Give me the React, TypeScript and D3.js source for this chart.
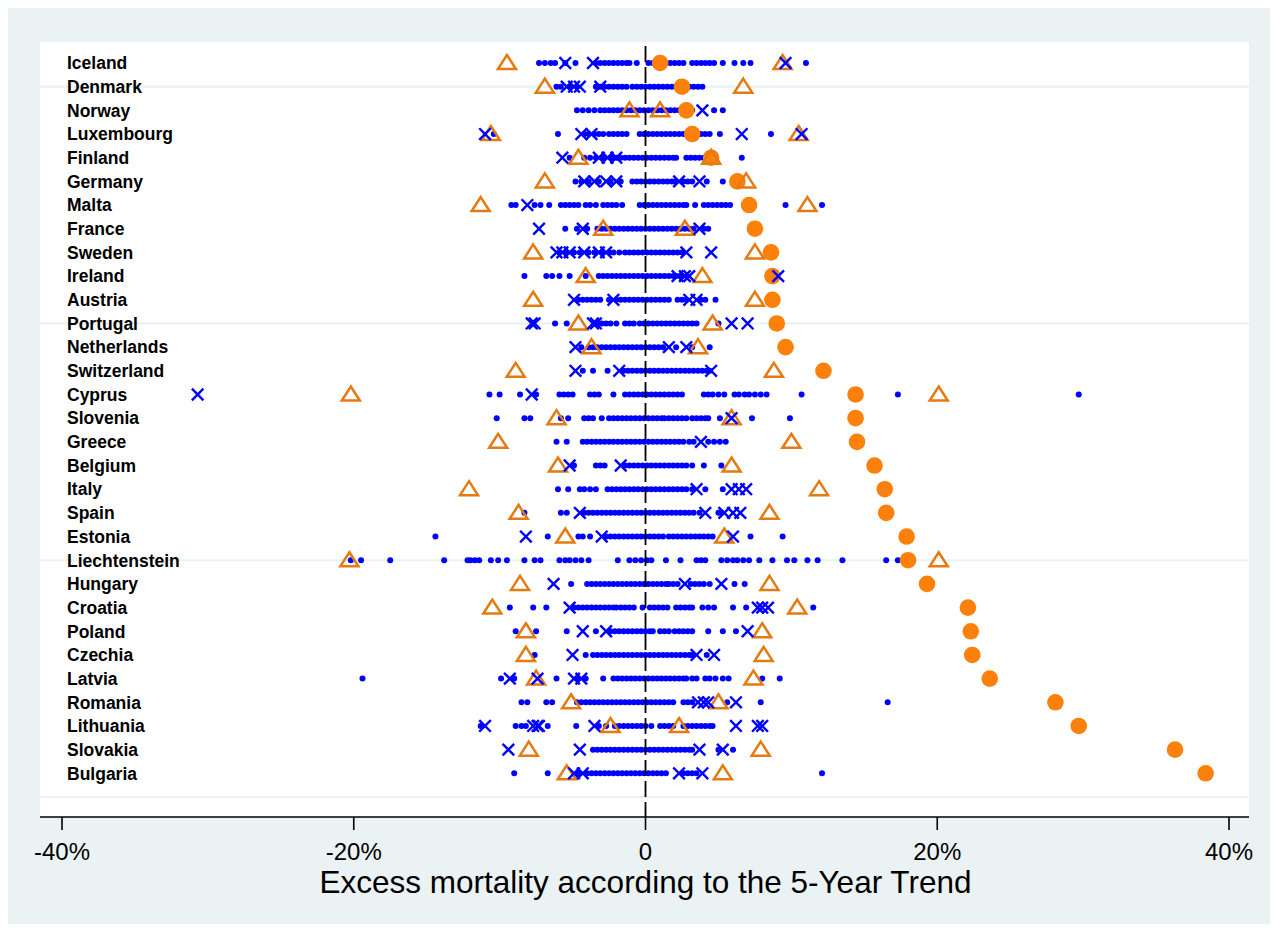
import React from "react";
import * as d3 from "d3";

const countries = [
  "Iceland","Denmark","Norway","Luxembourg","Finland","Germany","Malta","France","Sweden","Ireland",
  "Austria","Portugal","Netherlands","Switzerland","Cyprus","Slovenia","Greece","Belgium","Italy","Spain",
  "Estonia","Liechtenstein","Hungary","Croatia","Poland","Czechia","Latvia","Romania","Lithuania","Slovakia","Bulgaria",
];

// orange filled circle: overall excess mortality (%)
const excessValues = [
  1.0, 2.5, 2.8, 3.2, 4.5, 6.3, 7.1, 7.5, 8.6, 8.7,
  8.7, 9.0, 9.6, 12.2, 14.4, 14.4, 14.5, 15.7, 16.4, 16.5,
  17.9, 18.0, 19.3, 22.1, 22.3, 22.4, 23.6, 28.1, 29.7, 36.3, 38.4,
];

// orange hollow triangles: lower and upper bounds
const lowerBounds = [
  -9.5, -6.9, -1.1, -10.6, -4.6, -6.9, -11.3, -2.9, -7.7, -4.1,
  -7.7, -4.6, -3.7, -8.9, -20.2, -6.1, -10.1, -6.0, -12.1, -8.7,
  -5.5, -20.3, -8.6, -10.5, -8.2, -8.2, -7.5, -5.1, -2.4, -8.0, -5.4,
];
const upperBounds = [
  9.4, 6.7, 1.0, 10.5, 4.5, 6.9, 11.1, 2.7, 7.5, 3.9,
  7.5, 4.6, 3.6, 8.8, 20.1, 5.9, 10.0, 5.9, 11.9, 8.5,
  5.4, 20.1, 8.5, 10.4, 8.0, 8.1, 7.4, 5.0, 2.3, 7.9, 5.3,
];

// blue crosses
const crossValues: number[][] = [
  [-5.5, -3.6, 9.6],
  [-5.4, -4.9, -4.5, -3.1],
  [3.9],
  [-11.0, -4.4, -3.7, 6.6, 10.7],
  [-5.7, -3.2, -2.6, -2.0],
  [-4.2, -3.5, -2.7, -2.0, 2.3, 3.7],
  [-8.1],
  [-7.3, -4.3, 3.7],
  [-6.1, -5.7, -5.2, -4.2, -3.2, -2.7, 2.8, 4.5],
  [2.2, 2.7, 3.0, 9.1],
  [-4.9, -2.2, 3.0, 3.5],
  [-7.8, -7.6, -3.6, -3.4, 5.9, 7.0],
  [-4.8, 1.6, 2.8],
  [-4.8, -1.8, 4.5],
  [-30.7, -7.8],
  [5.9],
  [3.8],
  [-5.2, -1.7],
  [3.5, 5.9, 6.4, 6.9],
  [-4.5, 4.1, 5.4, 6.0, 6.5],
  [-8.2, -3.0, 6.0],
  [],
  [-6.3, 2.7, 5.2],
  [-5.2, 7.7, 8.0, 8.4],
  [-4.3, -2.7, 7.0],
  [-5.0, 3.5, 4.7],
  [-9.3, -7.4, -4.9, -4.4],
  [3.6, 4.0, 4.3, 6.2],
  [-11.0, -7.7, -7.4, -7.3, -3.5, 6.2, 7.7, 8.0],
  [-9.4, -4.5, 3.7, 5.3],
  [-4.9, -4.3, 2.3, 3.9],
];

// small blue dots
const dotValues: number[][] = [
  [-7.3,-6.9,-6.5,-6.2,-5.5,-4.8,-3.4,-3.1,-2.8,-2.5,-2.2,-1.9,-1.6,-1.3,-1.1,-0.6,0.2,0.5,0.8,1.1,1.4,1.7,2.0,2.3,2.6,3.2,3.5,3.8,4.1,4.4,4.7,5.3,6.1,6.7,7.2,11.0],
  [-6.1,-5.8,-5.2,-4.7,-3.4,-3.1,-2.8,-2.5,-2.2,-1.9,-1.6,-1.3,-0.9,-0.6,-0.3,0.0,0.3,0.6,0.9,1.2,1.5,1.8,2.1,2.4,2.7,3.0,3.3,3.6,3.9],
  [-4.7,-4.3,-3.9,-3.5,-3.1,-2.8,-2.5,-2.2,-1.9,-1.6,-1.3,-1.0,-0.7,-0.4,-0.1,0.2,0.5,0.8,1.1,1.4,1.7,2.0,2.3,2.6,2.9,3.2,4.7,5.3],
  [-10.4,-6.0,-4.2,-3.9,-3.5,-3.2,-2.9,-2.5,-2.2,-1.9,-1.6,-1.3,-0.4,-0.1,0.2,0.5,0.8,1.1,1.4,1.7,2.0,2.3,2.6,2.9,3.5,3.8,4.1,4.4,5.1,8.6],
  [-5.2,-4.2,-3.8,-3.4,-2.9,-2.3,-2.0,-1.7,-1.4,-1.1,-0.8,-0.5,-0.2,0.1,0.4,0.7,1.0,1.3,1.6,1.9,2.1,2.8,3.1,3.4,3.7,4.0,4.2,6.6],
  [-4.8,-4.4,-3.9,-3.2,-2.4,-1.7,-0.9,-0.6,-0.3,0.0,0.3,0.6,0.9,1.2,1.5,1.8,2.0,2.6,2.9,3.2,4.2,5.3],
  [-9.2,-8.9,-7.6,-7.2,-6.6,-5.8,-5.5,-5.2,-4.9,-4.6,-4.1,-3.8,-3.4,-2.9,-2.6,-2.3,-2.0,-1.6,-0.4,-0.1,0.2,0.5,0.8,1.1,1.4,1.7,2.0,2.3,2.6,2.8,3.4,4.0,4.3,4.6,4.9,5.2,5.5,5.8,9.6,12.1],
  [-5.5,-4.7,-4.0,-3.3,-3.0,-2.7,-2.4,-2.1,-1.8,-1.5,-1.2,-0.9,-0.6,-0.3,0.0,0.3,0.6,0.9,1.2,1.5,1.8,2.1,2.4,2.7,3.0,3.3,4.0,4.3],
  [-5.9,-5.4,-4.9,-4.5,-3.9,-3.5,-3.0,-2.5,-2.2,-1.8,-1.4,-1.1,-0.8,-0.5,-0.2,0.1,0.4,0.7,1.0,1.3,1.6,1.9,2.2,2.5],
  [-8.3,-6.8,-6.4,-5.9,-5.2,-4.1,-3.2,-2.9,-2.6,-2.3,-2.0,-1.7,-1.4,-1.1,-0.8,-0.5,-0.2,0.1,0.4,0.7,1.0,1.3,1.6,1.9,2.1,2.5],
  [-4.6,-4.3,-4.0,-3.7,-3.4,-3.1,-2.5,-2.0,-1.7,-1.4,-1.1,-0.8,-0.5,-0.2,0.1,0.4,0.7,1.0,1.3,1.6,2.2,2.5,2.8,3.8,4.1,4.8],
  [-6.2,-5.4,-3.3,-3.0,-2.7,-2.4,-2.0,-1.4,-1.1,-0.8,-0.4,-0.1,0.2,0.5,0.8,1.1,1.4,1.7,2.0,2.3,2.6,2.9,3.2,3.5,5.0],
  [-4.4,-3.9,-3.6,-3.3,-3.0,-2.7,-2.4,-2.1,-1.8,-1.5,-1.2,-0.9,-0.6,-0.3,0.0,0.3,0.6,0.9,1.2,2.1,3.2,4.4],
  [-4.3,-3.6,-2.6,-1.5,-1.2,-0.9,-0.6,-0.3,0.0,0.3,0.6,0.9,1.2,1.5,1.8,2.1,2.4,2.7,3.0,3.3,3.6,3.9,4.2,4.4],
  [-10.7,-10.0,-8.6,-7.5,-5.9,-5.6,-5.3,-5.0,-3.8,-3.5,-3.2,-2.2,-1.4,-1.1,-0.8,-0.5,-0.2,0.1,0.4,0.7,1.0,1.3,1.6,1.9,2.2,2.5,4.0,4.3,4.6,5.0,5.4,6.1,6.4,6.8,7.1,7.5,7.9,8.3,10.7,17.3,29.7],
  [-10.2,-8.3,-7.9,-5.8,-5.3,-4.2,-3.9,-3.6,-3.0,-2.5,-2.2,-1.9,-1.6,-1.3,-1.0,-0.7,-0.4,-0.1,0.2,0.5,0.8,1.1,1.3,1.6,1.9,2.2,2.5,2.8,3.2,3.5,3.8,4.1,4.3,5.1,7.3,9.9],
  [-6.1,-5.4,-4.3,-4.0,-3.7,-3.4,-3.1,-2.8,-2.5,-2.2,-1.9,-1.6,-1.3,-1.0,-0.7,-0.4,-0.1,0.2,0.5,0.8,1.1,1.4,1.7,2.0,2.3,2.6,3.0,3.3,4.3,4.7,5.1,5.5],
  [-4.9,-3.4,-3.1,-2.8,-1.4,-1.1,-0.8,-0.5,-0.2,0.1,0.4,0.7,1.0,1.3,1.6,1.9,2.2,2.5,2.8,3.2,4.0,5.2],
  [-6.0,-5.3,-4.5,-4.2,-3.8,-3.4,-2.6,-2.3,-2.0,-1.7,-1.4,-1.1,-0.8,-0.5,-0.2,0.1,0.4,0.7,1.0,1.3,1.6,1.9,2.2,2.5,2.8,3.2,4.1,5.3],
  [-8.3,-5.8,-5.4,-4.2,-3.9,-3.6,-3.3,-3.0,-2.7,-2.4,-2.1,-1.8,-1.5,-1.2,-0.9,-0.6,-0.3,0.0,0.3,0.6,0.9,1.2,1.5,1.8,2.1,2.4,2.7,3.0,3.3,3.7,5.0,5.2],
  [-14.4,-6.7,-4.6,-4.3,-3.8,-2.7,-2.4,-2.1,-1.8,-1.5,-1.2,-0.9,-0.6,-0.3,0.0,0.3,0.6,0.9,1.2,1.6,1.9,2.2,2.5,2.8,3.1,3.4,3.7,4.0,4.3,4.6,7.2,9.4],
  [-20.2,-19.5,-17.5,-13.8,-12.2,-12.0,-11.7,-11.4,-10.6,-10.1,-9.5,-8.3,-7.6,-7.2,-5.9,-5.5,-5.2,-4.8,-4.4,-3.9,-1.9,-1.1,-0.7,-0.3,0.1,0.4,1.4,2.4,3.5,3.8,4.1,5.2,5.6,6.0,6.3,6.7,7.1,7.8,8.7,9.7,10.2,11.1,11.8,13.5,16.5,17.3],
  [-5.1,-4.0,-3.7,-3.4,-3.1,-2.8,-2.5,-2.2,-1.9,-1.6,-1.3,-1.0,-0.7,-0.4,-0.1,0.2,0.5,0.8,1.1,1.4,1.6,1.9,2.2,3.1,3.4,3.7,4.0,4.4,6.1,6.8],
  [-9.3,-7.7,-6.8,-4.9,-4.6,-4.3,-4.0,-3.7,-3.4,-3.1,-2.8,-2.5,-2.2,-2.0,-1.7,-1.4,-1.1,-0.8,-0.2,0.3,0.6,0.9,1.2,1.5,2.1,2.4,2.7,3.0,3.2,3.9,4.3,4.7,6.0,6.9,11.5],
  [-8.9,-7.5,-5.4,-3.4,-2.4,-2.1,-1.8,-1.5,-1.2,-0.9,-0.6,-0.3,0.0,0.3,0.5,1.0,1.3,1.6,2.0,2.3,2.6,2.9,3.2,4.3,5.3,6.2],
  [-7.6,-4.1,-3.6,-3.3,-3.0,-2.7,-2.4,-2.1,-1.8,-1.5,-1.2,-0.9,-0.6,-0.3,0.0,0.3,0.6,0.9,1.2,1.5,1.8,2.1,2.4,2.7,3.0,3.2,4.2],
  [-19.4,-9.9,-9.0,-6.1,-4.7,-4.1,-2.9,-2.2,-1.9,-1.6,-1.3,-1.0,-0.7,-0.4,-0.1,0.2,0.5,0.8,1.1,1.4,1.7,2.0,2.3,2.6,2.8,3.2,3.5,4.1,4.4,4.8,5.3,5.7,8.0,9.2],
  [-8.5,-8.1,-6.8,-6.4,-4.7,-4.4,-4.1,-3.8,-3.5,-3.2,-2.9,-2.6,-2.3,-2.0,-1.7,-1.4,-1.1,-0.8,-0.5,-0.2,0.1,0.4,0.7,1.0,1.3,1.6,1.9,2.6,2.9,3.2,5.6,7.9,16.6],
  [-11.3,-8.9,-8.5,-8.2,-6.7,-4.75,-3.2,-2.7,-2.1,-1.8,-1.5,-1.2,-0.9,-0.6,-0.3,0.0,0.4,1.0,1.3,1.6,1.9,2.6,2.9,3.2,3.5,3.8,4.1,4.4,4.6],
  [-3.6,-3.3,-3.0,-2.7,-2.4,-2.1,-1.8,-1.5,-1.2,-0.9,-0.6,-0.3,0.0,0.3,0.6,0.9,1.2,1.5,1.8,2.1,2.4,2.7,3.0,3.2,5.0,6.0],
  [-9.0,-6.7,-4.6,-4.0,-3.7,-3.4,-3.1,-2.8,-2.5,-2.2,-1.9,-1.6,-1.3,-1.0,-0.7,-0.4,-0.1,0.2,0.5,0.8,1.1,1.4,2.6,2.9,3.2,3.5,12.1],
];

const xTicks = [-40, -20, 0, 20, 40];
const gridRows = [0, 10, 20, 30];
const axisTitle = "Excess mortality according to the 5-Year Trend";

const W = 1270;
const H = 916;
const BG = "#EAF2F3";
const BLUE = "#0000FF";
const ORANGE_FILL = "#FC800A";
const ORANGE_LINE = "#E47A12";
const FONT = "'Liberation Sans', Arial, Helvetica, sans-serif";

export default function App() {
  const plotL = 32, plotR = 1241, plotT = 34, plotB = 809;
  const x = d3.scaleLinear().domain([-40, 40]).range([54, 1221]);
  const n = countries.length;
  // row value: top country = n, bottom = 1
  const y = d3.scaleLinear().domain([0, 31]).range([789, 55]);
  const rowY = (i: number) => y(n - i);
  const tickFmt = (v: number) => (v === 0 ? "0" : `${v}%`);

  const tri = (cx: number, cy: number) =>
    `M${cx},${cy - 8}L${cx + 9},${cy + 6}L${cx - 9},${cy + 6}Z`;
  const s = 5.8;

  return (
    <svg width={W} height={H} style={{ display: "block" }} fontFamily={FONT}>
      <rect x={0} y={0} width={W} height={H} fill={BG} />
      <rect x={plotL} y={plotT} width={plotR - plotL} height={plotB - plotT} fill="#FFFFFF" />
      {gridRows.map((g) => (
        <line key={g} x1={plotL} x2={plotR} y1={y(g)} y2={y(g)} stroke={BG} strokeWidth={2.2} />
      ))}
      {countries.map((c, i) => (
        <text key={c} x={59} y={rowY(i)} dy="0.36em" fontSize={17.5} fontWeight="bold" fill="#000">
          {c}
        </text>
      ))}
      {/* blue dots */}
      <g fill={BLUE}>
        {dotValues.map((arr, i) =>
          arr.map((v, j) => <circle key={`d${i}-${j}`} cx={x(v)} cy={rowY(i)} r={3.0} />)
        )}
      </g>
      {/* zero line */}
      <line x1={x(0)} x2={x(0)} y1={plotT + 4} y2={plotB} stroke="#000" strokeWidth={1.8} strokeDasharray="16 5" />
      {/* orange circles */}
      <g fill={ORANGE_FILL}>
        {excessValues.map((v, i) => (
          <circle key={`c${i}`} cx={x(v)} cy={rowY(i)} r={8.3} />
        ))}
      </g>
      {/* triangles */}
      <g fill="none" stroke={ORANGE_LINE} strokeWidth={2.5} strokeLinejoin="miter">
        {lowerBounds.map((v, i) => (
          <path key={`tl${i}`} d={tri(x(v), rowY(i))} />
        ))}
        {upperBounds.map((v, i) => (
          <path key={`tu${i}`} d={tri(x(v), rowY(i))} />
        ))}
      </g>
      {/* crosses */}
      <g stroke={BLUE} strokeWidth={2.4}>
        {crossValues.map((arr, i) =>
          arr.map((v, j) => {
            const cx = x(v), cy = rowY(i);
            return (
              <g key={`x${i}-${j}`}>
                <line x1={cx - s} y1={cy - s} x2={cx + s} y2={cy + s} />
                <line x1={cx - s} y1={cy + s} x2={cx + s} y2={cy - s} />
              </g>
            );
          })
        )}
      </g>
      {/* x axis */}
      <line x1={plotL} x2={plotR} y1={plotB} y2={plotB} stroke="#000" strokeWidth={1.6} />
      {xTicks.map((t) => (
        <g key={t}>
          <line x1={x(t)} x2={x(t)} y1={plotB} y2={plotB + 13} stroke="#000" strokeWidth={1.6} />
          <text x={x(t)} y={852} textAnchor="middle" fontSize={24} fill="#000">
            {tickFmt(t)}
          </text>
        </g>
      ))}
      <text x={x(0)} y={885} textAnchor="middle" fontSize={31.5} fill="#000">
        {axisTitle}
      </text>
    </svg>
  );
}
